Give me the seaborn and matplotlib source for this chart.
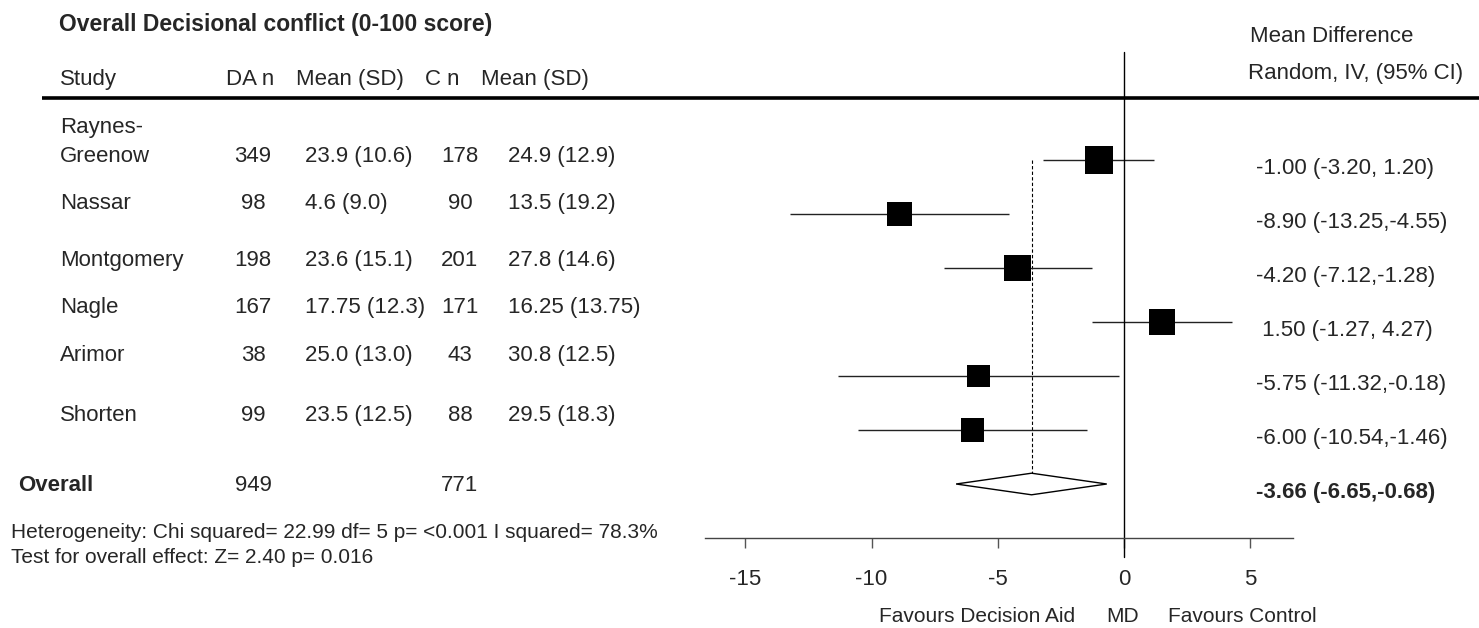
import numpy as np
import pandas as pd
import matplotlib.pyplot as plt
import matplotlib.transforms as mtransforms
from matplotlib.patches import Polygon
import seaborn as sns

# data
studies = ["Raynes-\nGreenow", "Nassar", "Montgomery", "Nagle", "Arimor", "Shorten"]
da_n = [349, 98, 198, 167, 38, 99]
da_mean_sd = ["23.9 (10.6)", "4.6 (9.0)", "23.6 (15.1)", "17.75 (12.3)", "25.0 (13.0)", "23.5 (12.5)"]
c_n = [178, 90, 201, 171, 43, 88]
c_mean_sd = ["24.9 (12.9)", "13.5 (19.2)", "27.8 (14.6)", "16.25 (13.75)", "30.8 (12.5)", "29.5 (18.3)"]
md = [-1.00, -8.90, -4.20, 1.50, -5.75, -6.00]
ci_lo = [-3.20, -13.25, -7.12, -1.27, -11.32, -10.54]
ci_hi = [1.20, -4.55, -1.28, 4.27, -0.18, -1.46]
weights = [20.0, 15.9, 18.6, 17.3, 13.5, 14.7]  # % weight, judged from box size

overall_da_n = 949
overall_c_n = 771
overall_md, overall_lo, overall_hi = -3.66, -6.65, -0.68
xticks = [-15, -10, -5, 0, 5]

title = "Overall Decisional conflict (0-100 score)"
headers = ["Study", "DA n", "Mean (SD)", "C n", "Mean (SD)"]
het_text = "Heterogeneity: Chi squared= 22.99 df= 5 p= <0.001 I squared= 78.3%"
test_text = "Test for overall effect: Z= 2.40 p= 0.016"

sns.set_theme(style="ticks")
plt.rcParams['font.family'] = ['Liberation Sans', 'DejaVu Sans']

W, H = 1479, 628
fig = plt.figure(figsize=(W / 100, H / 100), dpi=100)

# text layer in pixel coordinates
tx = fig.add_axes([0, 0, 1, 1])
tx.set_xlim(0, W)
tx.set_ylim(H, 0)
tx.axis('off')

fs = 16
tx.text(59, 31, title, fontsize=16.5, fontweight='bold', va='baseline')
for x, h in zip([60, 226, 296, 425, 481], headers):
    tx.text(x, 85, h, fontsize=fs, va='baseline')
tx.plot([42, W], [98, 98], color='black', lw=2.6, solid_capstyle='butt')

row_base = [162, 209, 266, 313, 361, 421]
for i, name in enumerate(studies):
    b = row_base[i]
    lines = name.split("\n")
    for k, ln in enumerate(reversed(lines)):
        tx.text(60, b - 29 * k, ln, fontsize=fs, va='baseline')
    tx.text(253, b, str(da_n[i]), fontsize=fs, va='baseline', ha='center')
    tx.text(305, b, da_mean_sd[i], fontsize=fs, va='baseline')
    tx.text(460, b, str(c_n[i]), fontsize=fs, va='baseline', ha='center')
    tx.text(508, b, c_mean_sd[i], fontsize=fs, va='baseline')

tx.text(18, 491, "Overall", fontsize=fs, fontweight='bold', va='baseline')
tx.text(253, 491, str(overall_da_n), fontsize=fs, va='baseline', ha='center')
tx.text(460, 491, str(overall_c_n), fontsize=fs, va='baseline', ha='center')
tx.text(11, 538, het_text, fontsize=15, va='baseline')
tx.text(11, 563, test_text, fontsize=15, va='baseline')

tx.text(1250, 42, "Mean Difference", fontsize=fs, va='baseline')
tx.text(1248, 79, "Random, IV, (95% CI)", fontsize=fs, va='baseline')

tx.text(879, 622, "Favours Decision Aid", fontsize=15, va='baseline')
tx.text(1106, 622, "MD", fontsize=15, va='baseline')
tx.text(1168, 622, "Favours Control", fontsize=15, va='baseline')

# forest panel
ax = fig.add_axes([705 / W, 1 - 538 / H, 588 / W, (538 - 52) / H])
ax.patch.set_alpha(0)
rows = np.arange(len(studies))
df = pd.DataFrame({"md": md, "row": rows, "w": weights})
k = 20.3
sns.scatterplot(data=df, x="md", y="row", size="w",
                sizes=(k * min(weights), k * max(weights)),
                size_norm=(min(weights), max(weights)),
                marker='s', color='black', linewidth=0, legend=False,
                ax=ax, zorder=3)
ax.hlines(rows, ci_lo, ci_hi, color='#222222', lw=1, zorder=2)

orow = len(studies)
diamond = Polygon([[overall_lo, orow], [overall_md, orow - 0.2],
                   [overall_hi, orow], [overall_md, orow + 0.2]],
                  closed=True, facecolor='white', edgecolor='black', lw=1, zorder=3)
ax.add_patch(diamond)
ax.plot([overall_md, overall_md], [0, orow], color='black', lw=0.8,
        ls=(0, (3, 2)), zorder=1)
ax.plot([0, 0], [-2, 7.35], color='black', lw=1, clip_on=False, zorder=2)

ax.set_xlim(-16.6, 6.7)
ax.set_ylim(7, -2)
ax.set_xticks(xticks)
ax.set_xticklabels([str(t) for t in xticks])
ax.set_yticks([])
ax.set_xlabel("")
ax.set_ylabel("")
ax.tick_params(axis='x', bottom=True, length=7.2, width=1, color='#555555',
               pad=15, labelsize=fs)
for s in ['left', 'right', 'top']:
    ax.spines[s].set_visible(False)
ax.spines['bottom'].set_color('#444444')
ax.spines['bottom'].set_linewidth(1)

# effect estimates on the right
ci_tr = mtransforms.blended_transform_factory(
    tx.transData, mtransforms.offset_copy(ax.transData, fig=fig, y=-14, units='dots'))
for i in range(len(studies)):
    lab = f"{md[i]:5.2f} ({ci_lo[i]:5.2f},{ci_hi[i]:5.2f})"
    tx.text(1256, i, lab, fontsize=fs, va='baseline', transform=ci_tr)
tx.text(1256, orow, f"{overall_md:5.2f} ({overall_lo:5.2f},{overall_hi:5.2f})",
        fontsize=fs, fontweight='bold', va='baseline', transform=ci_tr)

fig.savefig("out.png", dpi=100)
